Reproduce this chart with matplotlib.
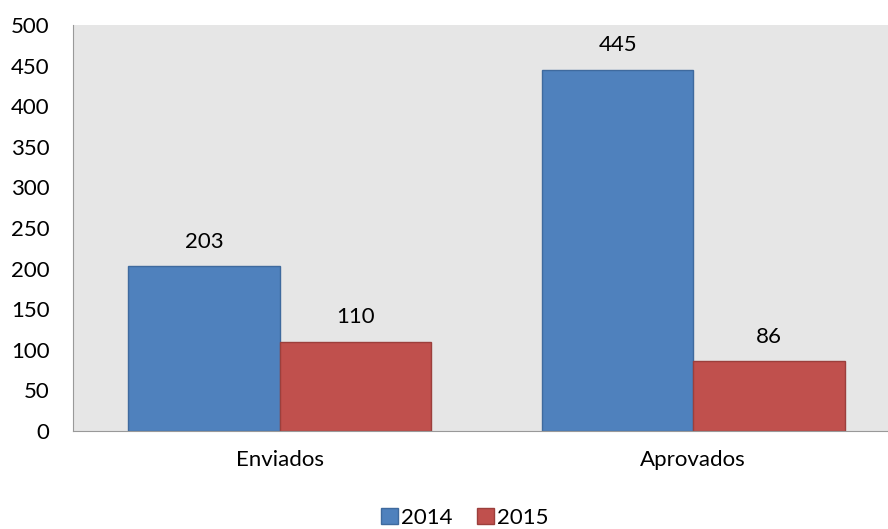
import numpy as np
import matplotlib.pyplot as plt
from matplotlib.patches import Patch

plt.rcParams['font.family'] = ['Lato', 'DejaVu Sans']

categorias = ["Enviados", "Aprovados"]
anos = ["2014", "2015"]
valores_2014 = [203, 445]
valores_2015 = [110, 86]

cores = ["#4f81bd", "#c0504d"]
bordas = ["#3f6a9e", "#9c3f3c"]

fig = plt.figure(figsize=(8.88, 5.29), dpi=100)
ax = fig.add_axes([73 / 888, 1 - 431 / 529, 815 / 888, 406 / 529])
ax.set_facecolor("#e6e6e6")

x = np.arange(len(categorias))
largura = 0.366
for i, (vals, cor, borda) in enumerate(zip([valores_2014, valores_2015], cores, bordas)):
    pos = x + (i - 0.5) * largura
    ax.bar(pos, vals, largura, color=cor, edgecolor=borda, linewidth=1)
    for xb, v in zip(pos, vals):
        ax.text(xb, v + 30, str(v), ha="center", va="center", fontsize=16)

ax.set_xlim(-0.5, 1.5 - 12 / 413)
ax.set_ylim(0, 500)
ax.set_yticks(range(0, 501, 50))
ax.set_xticks(x)
ax.set_xticklabels(categorias)
ax.tick_params(axis="both", length=0, labelsize=16)
ax.tick_params(axis="x", pad=14)
ax.tick_params(axis="y", pad=17)
for lado in ["top", "right"]:
    ax.spines[lado].set_visible(False)
for lado in ["left", "bottom"]:
    ax.spines[lado].set_color("#999999")

handles = [Patch(facecolor=c, edgecolor=b) for c, b in zip(cores, bordas)]
fig.legend(handles, anos, loc="center", bbox_to_anchor=(465 / 888, 1 - 518 / 529),
           ncol=2, frameon=False, fontsize=16, handlelength=0.75, handleheight=0.75,
           handletextpad=0.15, columnspacing=1.1)

fig.savefig("out.png", dpi=100)
